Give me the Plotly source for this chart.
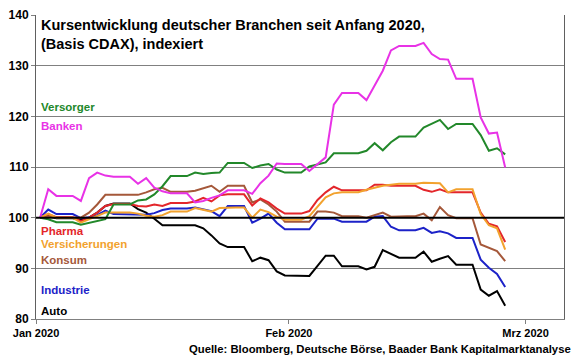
import pandas as pd
import plotly.graph_objects as go

# Daily calendar values from 2020-01-01 to 2020-02-27 (weekends carry Friday's value)
start_date = "2020-01-01"
n_days = 58

versorger = [100.0, 99.7, 99.1, 99.1, 99.1, 98.6, 99.0, 99.3, 99.7, 102.6, 102.6, 102.6, 103.4, 103.6, 104.6,
             106.2, 108.2, 108.2, 108.2, 108.9, 108.6, 108.8, 108.9, 110.8, 110.8, 110.8, 109.8, 110.3, 110.6,
             109.5, 108.9, 108.9, 108.9, 110.1, 110.5, 110.9, 112.7, 112.7, 112.7, 112.7, 113.2, 114.7, 113.3,
             114.9, 116.0, 116.0, 116.0, 117.8, 118.6, 119.3, 117.5, 118.5, 118.5, 118.5, 116.3, 113.2, 113.7, 112.5]
banken = [100.0, 105.6, 104.3, 104.3, 104.3, 103.3, 107.8, 108.9, 108.3, 108.1, 108.1, 108.1, 106.7, 107.8, 105.9,
          105.2, 104.8, 104.8, 104.8, 103.0, 103.3, 103.9, 104.4, 105.4, 105.4, 105.4, 104.7, 106.8, 108.3,
          110.7, 110.6, 110.6, 110.6, 109.2, 110.6, 111.9, 122.3, 124.6, 124.6, 124.6, 123.2, 126.1, 129.0,
          133.0, 133.9, 133.9, 133.9, 134.5, 132.3, 131.3, 131.2, 127.4, 127.4, 127.4, 119.8, 116.6, 116.8, 109.9]
pharma = [100.0, 100.7, 100.1, 100.1, 100.1, 99.3, 100.0, 101.0, 102.3, 102.7, 102.7, 102.7, 102.3, 102.2, 102.6,
          102.3, 102.9, 102.9, 102.9, 103.2, 103.9, 103.2, 104.4, 104.6, 104.6, 104.6, 102.4, 103.8, 103.0,
          101.8, 100.8, 100.8, 100.8, 101.3, 103.5, 105.0, 106.1, 105.4, 105.4, 105.4, 105.4, 106.5, 106.5,
          106.3, 106.3, 106.3, 106.3, 105.5, 105.1, 105.6, 105.0, 105.0, 105.0, 105.0, 101.0, 98.8, 98.3, 95.2]
versicherungen = [100.0, 100.8, 100.0, 100.0, 100.0, 99.0, 99.7, 100.3, 101.0, 101.0, 101.0, 101.0, 100.8, 100.4,
                  100.2, 100.5, 101.2, 101.2, 101.2, 101.9, 101.6, 101.2, 101.9, 102.0, 102.0, 102.0, 100.0, 101.6,
                  101.1, 100.2, 99.6, 99.6, 99.6, 100.3, 102.2, 104.0, 104.8, 105.0, 105.0, 105.0, 105.5, 105.9,
                  106.3, 106.5, 106.7, 106.7, 106.7, 106.9, 106.8, 106.8, 105.0, 105.6, 105.6, 105.6, 100.7, 98.5,
                  97.9, 93.7]
konsum = [100.0, 100.3, 100.1, 100.1, 100.1, 100.0, 101.0, 102.6, 104.5, 104.5, 104.5, 104.5, 104.5, 105.0, 105.6,
          105.9, 105.1, 105.1, 105.1, 105.3, 105.8, 106.3, 105.1, 106.3, 106.3, 106.3, 103.0, 103.6, 102.6,
          101.2, 99.2, 99.2, 99.2, 99.2, 101.2, 101.2, 101.0, 100.3, 100.3, 100.3, 100.0, 100.5, 101.0,
          100.2, 100.3, 100.3, 100.3, 100.8, 99.5, 102.1, 100.5, 99.9, 99.9, 99.9, 94.7, 94.1, 93.4, 91.4]
industrie = [100.0, 101.6, 100.7, 100.7, 100.7, 99.9, 100.1, 100.5, 101.4, 100.7, 100.7, 100.7, 100.7, 100.6, 100.9,
             101.5, 101.8, 101.8, 101.8, 102.0, 101.7, 101.3, 100.3, 102.3, 102.3, 102.3, 99.0, 99.8, 100.8,
             99.0, 97.7, 97.7, 97.7, 97.7, 99.8, 99.8, 99.8, 99.2, 99.2, 99.2, 99.2, 100.2, 100.3,
             98.2, 97.5, 97.5, 97.5, 98.0, 97.0, 97.3, 96.9, 96.0, 96.0, 96.0, 91.7, 90.1, 88.9, 86.3]
auto = [100.0, 100.3, 99.9, 99.9, 99.9, 99.6, 100.0, 101.0, 102.3, 102.8, 102.8, 102.8, 101.7, 101.0, 99.8,
        98.5, 98.5, 98.5, 98.5, 98.5, 97.9, 96.5, 94.9, 94.2, 94.2, 94.2, 91.4, 92.1, 91.6,
        89.4, 88.6, 88.6, 88.6, 88.5, 90.5, 92.5, 92.5, 90.4, 90.4, 90.4, 89.8, 90.3, 93.6,
        92.8, 92.1, 92.1, 92.1, 93.3, 91.3, 91.9, 92.4, 90.7, 90.7, 90.7, 85.8, 84.6, 85.5, 82.6]

series_names = ["Versorger", "Banken", "Pharma", "Versicherungen", "Konsum", "Industrie", "Auto"]
series_values = [versorger, banken, pharma, versicherungen, konsum, industrie, auto]
series_colors = ["#22882A", "#E832E6", "#E3262B", "#F2A22E", "#A5583A", "#1C22C8", "#000000"]

y_tick_vals = [80, 90, 100, 110, 120, 130, 140]
x_tick_vals = ["2020-01-01", "2020-02-01", "2020-03-01"]
x_tick_text = ["Jan 2020", "Feb 2020", "Mrz 2020"]

title_text = "Kursentwicklung deutscher Branchen seit Anfang 2020,<br>(Basis CDAX), indexiert"
source_text = "Quelle: Bloomberg, Deutsche Börse, Baader Bank Kapitalmarktanalyse"

# Excel-style date axis: each daily point is centred in its day slot
dates = pd.date_range(start_date, periods=n_days, freq="D") + pd.Timedelta(hours=12)

FONT = "Liberation Sans, Arial, sans-serif"

fig = go.Figure()
draw_order = [6, 5, 4, 2, 3, 0, 1]
for i in draw_order:
    fig.add_trace(go.Scatter(x=dates, y=series_values[i], mode="lines", name=series_names[i],
                             line=dict(color=series_colors[i], width=2), showlegend=False))

# Legend labels placed at the left inside the plot
label_y = {"Versorger": 121.9, "Banken": 118.0, "Pharma": 97.4, "Versicherungen": 94.9,
           "Konsum": 91.6, "Industrie": 85.8, "Auto": 81.6}
for name, col in zip(series_names, series_colors):
    fig.add_annotation(x=0.007, xref="paper", y=label_y[name], yref="y", text="<b>%s</b>" % name,
                       showarrow=False, xanchor="left", yanchor="middle", borderpad=0,
                       font=dict(family=FONT, size=11.5, color=col))

fig.add_annotation(x=0.007, xref="paper", y=0.997, yref="paper", text="<b>%s</b>" % title_text,
                   showarrow=False, xanchor="left", yanchor="top", align="left", borderpad=0,
                   font=dict(family=FONT, size=14.5, color="#000000"))

fig.add_annotation(x=1.017, xref="paper", y=-0.099, yref="paper", text="<b>%s</b>" % source_text,
                   showarrow=False, xanchor="right", yanchor="middle",
                   font=dict(family=FONT, size=11.3, color="#000000"))

fig.add_hline(y=100, line=dict(color="#000000", width=2), layer="above")

# Page body has an 8px default margin, so the figure is 8px smaller and margins shifted
fig.update_layout(
    width=572, height=351,
    margin=dict(l=28, r=16, t=7, b=40, autoexpand=False),
    paper_bgcolor="white", plot_bgcolor="white",
    font=dict(family=FONT, size=11, color="#000000"),
    xaxis=dict(type="date", range=["2020-01-01 00:00", "2020-03-05 17:00"], automargin=False,
               tickvals=x_tick_vals, ticktext=["<b>%s</b>" % t for t in x_tick_text],
               ticks="outside", ticklen=4, tickcolor="#808080",
               showgrid=False, showline=True, linecolor="#808080", linewidth=1,
               tickfont=dict(family=FONT, size=11, color="#000000")),
    yaxis=dict(range=[80, 140], tickvals=y_tick_vals, automargin=False,
               ticktext=["<b>%d</b>" % v for v in y_tick_vals],
               ticks="outside", ticklen=4, tickcolor="#808080",
               showgrid=True, gridcolor="#808080", gridwidth=1,
               showline=True, linecolor="#606060", linewidth=1, mirror=True,
               zeroline=False,
               tickfont=dict(family=FONT, size=12, color="#000000")),
)

fig.write_html("out.html")
